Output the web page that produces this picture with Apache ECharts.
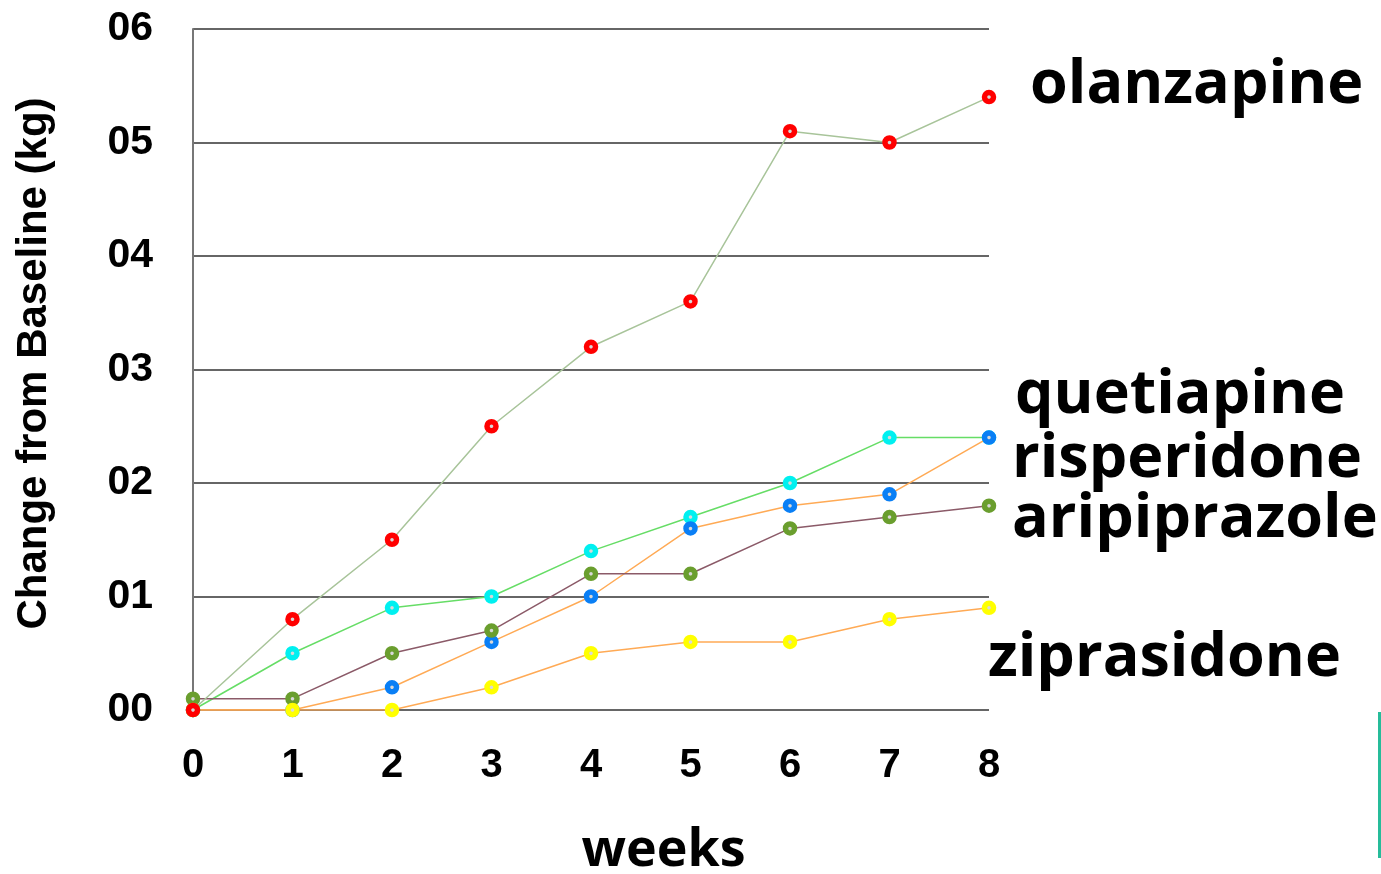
<!DOCTYPE html>
<html>
<head>
<meta charset="utf-8">
<script src="https://cdn.jsdelivr.net/npm/echarts@6/dist/echarts.min.js"></script>
<style>
html,body{margin:0;padding:0;background:#fff;}
#chart{width:1381px;height:874px;}
</style>
</head>
<body>
<div id="chart"></div>
<script>
const weeks = ['0','1','2','3','4','5','6','7','8'];
const yTickLabels = ['00','01','02','03','04','05','06'];
const quetiapine   = [0, 0.5, 0.9, 1.0, 1.4, 1.7, 2.0, 2.4, 2.4];
const risperidone  = [0, 0, 0.2, 0.6, 1.0, 1.6, 1.8, 1.9, 2.4];
const aripiprazole = [0.1, 0.1, 0.5, 0.7, 1.2, 1.2, 1.6, 1.7, 1.8];
const ziprasidone  = [0, 0, 0, 0.2, 0.5, 0.6, 0.6, 0.8, 0.9];
const olanzapine   = [0, 0.8, 1.5, 2.5, 3.2, 3.6, 5.1, 5.0, 5.4];
const drugNames = ['olanzapine','quetiapine','risperidone','aripiprazole','ziprasidone'];

function mk(name, data, marker, line) {
  return {
    name: name, type: 'line', data: data,
    symbol: 'circle', symbolSize: 9,
    itemStyle: { color: '#d8d8d8', borderColor: marker, borderWidth: 5.5 },
    lineStyle: { color: line, width: 1.5 },
    emphasis: { disabled: true },
    animation: false
  };
}

const chart = echarts.init(document.getElementById('chart'));
const labelFont = 'Open Sans';
const drugFont = 'bold 61px "Open Sans"';
chart.setOption({
  backgroundColor: '#fff',
  grid: { left: 193, right: 392, top: 29, bottom: 164, containLabel: false, outerBoundsMode: 'none' },
  xAxis: {
    type: 'category', data: weeks, boundaryGap: false,
    name: 'weeks', nameLocation: 'middle', nameGap: 115,
    nameTextStyle: { fontFamily: labelFont, fontWeight: 'bold', fontSize: 52, color: '#000', padding: [0, 0, 0, 145] },
    axisLine: { show: false }, axisTick: { show: false },
    axisLabel: { margin: 36, fontFamily: 'Liberation Sans', fontWeight: 'bold', fontSize: 40, color: '#000' },
    splitLine: { show: false }
  },
  yAxis: {
    type: 'value', min: 0, max: 6, interval: 1,
    name: 'Change from Baseline (kg)', nameLocation: 'middle', nameRotate: 90, nameGap: 138,
    nameTextStyle: { fontFamily: 'Liberation Sans', fontWeight: 'bold', fontSize: 42, color: '#000', padding: [0, 0, 0, 12] },
    axisLine: { show: true, lineStyle: { color: '#777', width: 2 } },
    axisTick: { show: false },
    axisLabel: { margin: 40, fontFamily: 'Liberation Sans', fontWeight: 'bold', fontSize: 41, color: '#000',
      formatter: function (v) { return yTickLabels[v]; } },
    splitLine: { show: true, lineStyle: { color: '#333', width: 1.5 } }
  },
  series: [
    mk(drugNames[1], quetiapine, '#00f0f0', '#66dd66'),
    mk(drugNames[2], risperidone, '#0a7ff5', '#ffaa55'),
    mk(drugNames[3], aripiprazole, '#6a9e2e', '#8b5a68'),
    mk(drugNames[4], ziprasidone, '#ffff00', '#ffaa55'),
    mk(drugNames[0], olanzapine, '#ff0000', '#a8c49a')
  ],
  graphic: [
    { type: 'text', left: 1030, top: 55, style: { text: drugNames[0], font: drugFont, fill: '#000' } },
    { type: 'text', left: 1015, top: 365, style: { text: drugNames[1], font: drugFont, fill: '#000' } },
    { type: 'text', left: 1012, top: 429, style: { text: drugNames[2], font: drugFont, fill: '#000' } },
    { type: 'text', left: 1012, top: 489, style: { text: drugNames[3], font: drugFont, fill: '#000' } },
    { type: 'text', left: 988, top: 628, style: { text: drugNames[4], font: drugFont, fill: '#000' } },
    { type: 'rect', shape: { x: 1378, y: 712, width: 3, height: 146 }, style: { fill: '#26bc9a' } }
  ]
});
</script>
</body>
</html>
